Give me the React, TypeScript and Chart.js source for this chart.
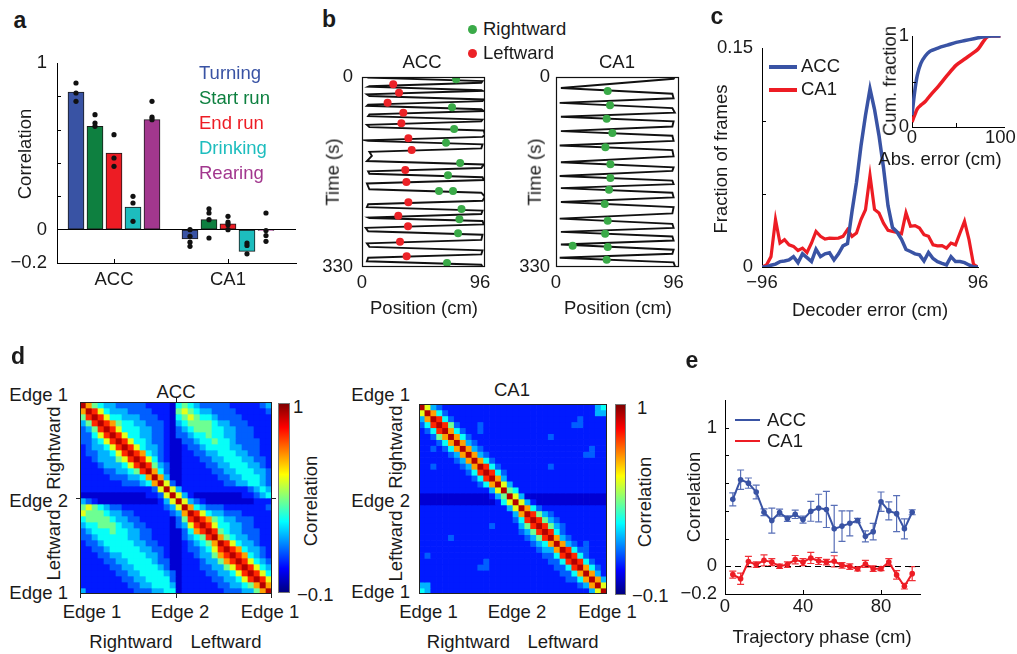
import React, { useEffect, useRef } from 'react';
import { Chart, registerables } from 'chart.js';

Chart.register(...registerables);

const FONT = "'Liberation Sans', Arial, Helvetica, sans-serif";
const INK = '#1a1a1a';
const FS = 18.5;

// ---------------- Panel a ----------------
const BEHAVIOURS = ['Turning', 'Start run', 'End run', 'Drinking', 'Rearing'];
const BEHAVIOUR_COLORS = ['#3953A4', '#0E8040', '#ED1C24', '#1DBDBE', '#A2378E'];
const REGIONS = ['ACC', 'CA1'];
const ACC_BAR = [0.825, 0.62, 0.46, 0.135, 0.66];
const CA1_BAR = [-0.055, 0.06, 0.035, -0.13, -0.005];
const ACC_ANIMALS = [[0.88, 0.82, 0.77], [0.69, 0.64, 0.62], [0.57, 0.43, 0.38], [0.2, 0.16, 0.05], [0.77, 0.675, 0.66]];
const CA1_ANIMALS = [[0, -0.04, -0.075, -0.1], [0.125, 0.1, 0.06, -0.05], [0.08, 0.045, 0.03, 0], [-0.08, -0.095, -0.145], [0.1, -0.005, -0.035, -0.07]];
const CORR_TICKS = [-0.2, 0, 1];

// ---------------- Panel b ----------------
// [time (s), position (cm)]
const ACC_PATH = [
  [0, 4], [1, 5], [7, 98], [10, 97], [16, 6], [17, 5], [23, 97], [24, 98], [30, 4], [33, 6], [39, 99], [42, 98],
  [48, 5], [50, 4], [56, 97], [59, 99], [65, 6], [68, 5], [74, 98], [77, 97], [83, 4], [87, 6], [93, 99], [101, 100],
  [104, 98], [110, 3], [111, 5], [117, 98], [124, 97], [130, 6], [137, 8], [146, 4], [152, 99], [158, 97], [164, 5],
  [168, 6], [174, 98], [179, 99], [185, 4], [195, 6], [201, 97], [208, 100], [215, 98], [221, 5], [226, 4], [232, 98],
  [238, 97], [244, 5], [245, 6], [250, 98], [256, 99], [262, 3], [268, 5], [274, 98], [283, 97], [289, 4], [295, 6],
  [301, 98], [308, 97], [314, 5], [320, 4], [326, 97], [330, 98],
];
const CA1_PATH = [
  [0, 97], [3, 96], [19, 4], [29, 95], [37, 96], [45, 3], [54, 95], [62, 97], [69, 4], [77, 96], [86, 95], [94, 4],
  [102, 95], [111, 96], [119, 3], [127, 95], [138, 96], [148, 4], [157, 96], [163, 95], [172, 3], [180, 95], [186, 96],
  [193, 4], [201, 95], [209, 96], [217, 4], [226, 96], [237, 95], [246, 3], [255, 95], [262, 96], [269, 4], [277, 95],
  [284, 96], [291, 4], [300, 96], [307, 95], [314, 3], [322, 96], [328, 97], [330, 97],
];
const ACC_RIGHTWARD = [[4, 76.5], [52.7, 73.2], [90.3, 74.9], [114, 68.3], [149.4, 79.8], [170.8, 69.9], [198, 62.6], [198, 74.0], [229.3, 80.9], [247.2, 79.2], [271.5, 78.1], [323, 69.1]];
const ACC_LEFTWARD = [[12.7, 25.4], [27.2, 30.1], [44.6, 20.8], [62, 33.6], [80.5, 32.0], [106.5, 37.7], [126.8, 40.4], [161.5, 35.2], [182.4, 36.1], [217.7, 37.7], [240.8, 29.5], [259.4, 37.4], [286, 30.9], [311.5, 36.3]];
const CA1_RIGHTWARD = [[24.3, 42.2], [49.2, 44.1], [72.4, 41.4], [97.3, 46.0], [122.2, 40.3], [151.7, 44.4], [175.4, 44.4], [195.7, 43.3], [220.6, 39.8], [249.5, 42.2], [272.1, 40.1], [293, 13.6], [295.3, 42.2], [317.3, 41.4]];
const CA1_LEFTWARD: number[][] = [];

// ---------------- Panel c ----------------
const ERR_BINS = [-96, -92, -88, -84, -80, -76, -72, -68, -64, -60, -56, -52, -48, -44, -40, -36, -32, -28, -24, -20, -16, -12, -8, -4, 0, 4, 8, 12, 16, 20, 24, 28, 32, 36, 40, 44, 48, 52, 56, 60, 64, 68, 72, 76, 80, 84, 88, 92, 96];
const ACC_ERR_FRAC = [0, 0, 0.0012, 0.002, 0.0037, 0.0041, 0.0048, 0.0071, 0.003, 0.009, 0.0064, 0.0037, 0.0122, 0.0071, 0.009, 0.0097, 0.0048, 0.009, 0.0145, 0.016, 0.038, 0.058, 0.083, 0.104, 0.122, 0.108, 0.09, 0.068, 0.042, 0.027, 0.024, 0.019, 0.012, 0.0106, 0.009, 0.0083, 0.0041, 0.0099, 0.0058, 0.0037, 0.0025, 0.0014, 0.0071, 0.0037, 0.0037, 0.003, 0.0014, 0, 0];
const CA1_ERR_FRAC = [0, 0.0014, 0.0071, 0.0325, 0.0164, 0.0187, 0.0152, 0.0141, 0.0113, 0.0129, 0.0099, 0.0164, 0.0244, 0.021, 0.0191, 0.0198, 0.0196, 0.0198, 0.021, 0.0256, 0.021, 0.0233, 0.0325, 0.0392, 0.0627, 0.0394, 0.0369, 0.03, 0.0251, 0.0244, 0.0237, 0.0228, 0.0371, 0.0279, 0.0283, 0.0267, 0.0221, 0.021, 0.0152, 0.0145, 0.0147, 0.0129, 0.0164, 0.0152, 0.0233, 0.0313, 0.0187, 0.0018, 0];
const ABS_ERR = [0, 3, 6, 10, 15, 20, 30, 40, 50, 60, 70, 75, 80, 85, 90, 100];
const ACC_CUM = [0.13, 0.385, 0.57, 0.7, 0.78, 0.83, 0.87, 0.9, 0.93, 0.95, 0.97, 0.98, 0.99, 0.995, 1, 1];
const CA1_CUM = [0.055, 0.13, 0.2, 0.24, 0.28, 0.34, 0.45, 0.57, 0.68, 0.75, 0.82, 0.86, 0.93, 0.99, 1, 1];

// ---------------- Panel d ----------------
const LEVEL_VALUES = [-0.01, 0.065, 0.14, 0.23, 0.32, 0.43, 0.56, 0.69, 0.82, 0.945];
const ACC_MAP = [
  '97543322222111104543222221111123',
  '79864333222211105654332222111112',
  '58986443332221104565443222211111',
  '35898754433222103455554332221111',
  '23589864443322102345554433222111',
  '22468986443322102234454433222111',
  '22346898644322100223445443222211',
  '12334689864332100122344443322211',
  '12233468987432100112233444332211',
  '11233356898642100111223344433221',
  '11123334689853200111122334443321',
  '11112233458974200111112233444332',
  '11111222334797300111111223344432',
  '11111112223479620111111122334432',
  '11111111111126963111111111112343',
  '00000000000112696310000000011234',
  '32100000000001369632100000000111',
  '56543221111111236974322211111112',
  '65554332211111123798643322211111',
  '45555433221111102589875433222111',
  '34455543322111102368986443322111',
  '23444544332211100247898543322211',
  '22344444332211100234589754332211',
  '12234444433221100123457986433211',
  '11223444443322100122346898743321',
  '11122334444332100112335789874321',
  '11112233444432200111233578986432',
  '11111223344443200111223356898643',
  '11111122334444320111122334689864',
  '11111112233444420111112233468986',
  '11111111223344430111111223345797',
  '31111111122233440111111122233579',
];
const CA1_MAP = [
  '96321111111111111111111111111134',
  '69742111111111111111111111111133',
  '37984211111111111111111111121111',
  '24898521112111111111111111221111',
  '12489742112111111111111111111111',
  '11257974211111111111112111111111',
  '11124797321111111111111111111111',
  '11212479732111111111111111111211',
  '11111237973211111111111111112211',
  '11111123797421111111111111111111',
  '11211112379842111111112111111111',
  '11111111248984211111111111111111',
  '11111111124897311111111111111111',
  '11111111112479631111111111111111',
  '11111111111136954111111111111111',
  '00000000000013596300000000000000',
  '00000000000001469631000000000000',
  '11111111111111136974211111111111',
  '11111111111111113798532111111111',
  '11111111111111112489853211111111',
  '11111111111121111358985321111111',
  '11111111111111111235898421111111',
  '11111211111111111123589732111111',
  '11111111111111111112347973212111',
  '11111111111111111111233798422111',
  '12111111111111111111122489842111',
  '11111111111211111111112248984211',
  '11111111112211111111111224897421',
  '11111111111111111111111122479731',
  '11111111111111111111111112247973',
  '33111111111111111111111111123796',
  '43111111111111111111111111111369',
];

// ---------------- Panel e ----------------
const PHASES = [4, 8, 12, 16, 20, 24, 28, 32, 36, 40, 44, 48, 52, 56, 60, 64, 68, 72, 76, 80, 84, 88, 92, 96];
const ACC_PHASE = [0.483, 0.625, 0.6, 0.536, 0.39, 0.33, 0.387, 0.344, 0.375, 0.337, 0.397, 0.42, 0.41, 0.27, 0.29, 0.31, 0.33, 0.216, 0.25, 0.466, 0.4, 0.38, 0.27, 0.39];
const ACC_PHASE_SEM = [0.047, 0.07, 0.037, 0.05, 0.024, 0.09, 0.025, 0.02, 0.03, 0.025, 0.072, 0.1, 0.13, 0.17, 0.11, 0.09, 0.016, 0.04, 0.06, 0.07, 0.065, 0.13, 0.072, 0.018];
const CA1_PHASE = [-0.06, -0.09, 0.034, 0.012, 0.043, 0.03, 0, 0.012, 0.048, 0.03, 0.06, 0.038, 0.03, 0.036, 0.007, -0.002, -0.019, 0.017, -0.017, -0.017, 0.031, -0.062, -0.144, -0.053];
const CA1_PHASE_SEM = [0.025, 0.04, 0.038, 0.02, 0.04, 0.025, 0.015, 0.02, 0.03, 0.025, 0.04, 0.025, 0.02, 0.04, 0.02, 0.02, 0.015, 0.025, 0.02, 0.015, 0.025, 0.03, 0.02, 0.05];

const BLUE = '#3953A4';
const RED = '#ED1C24';

// ---------------- helpers ----------------
const tickFont = { family: FONT, size: FS };
const fmt = (v: number) => (v < 0 ? '\u2212' + String(Math.abs(v)) : String(v));
const fixedTicks = (values: number[]) => (scale: any) => {
  scale.ticks = values.map((v) => ({ value: v }));
};

function jet(t: number) {
  const c = (x: number) => Math.max(0, Math.min(1, x));
  const r = c(1.5 - Math.abs(4 * t - 3));
  const g = c(1.5 - Math.abs(4 * t - 2));
  const b = c(1.5 - Math.abs(4 * t - 1));
  return `rgb(${Math.round(r * 255)},${Math.round(g * 255)},${Math.round(b * 255)})`;
}
const corrColor = (v: number) => jet((v + 0.1) / 1.1);

const inTicksPlugin = {
  id: 'inTicks',
  afterDatasetsDraw(chart: any, _a: any, opts: any) {
    if (!opts || (!opts.x && !opts.y)) return;
    const { ctx, chartArea: a, scales } = chart;
    const len = opts.len || 4;
    ctx.save();
    ctx.strokeStyle = '#000';
    ctx.lineWidth = 1;
    (opts.y || []).forEach((v: number) => {
      const p = Math.round(scales.y.getPixelForValue(v)) + 0.5;
      ctx.beginPath();
      ctx.moveTo(a.left, p);
      ctx.lineTo(a.left + len, p);
      ctx.stroke();
    });
    (opts.x || []).forEach((v: number) => {
      const p = Math.round(scales.x.getPixelForValue(v)) + 0.5;
      ctx.beginPath();
      ctx.moveTo(p, a.bottom);
      ctx.lineTo(p, a.bottom - len);
      ctx.stroke();
    });
    ctx.restore();
  },
};

const framePlugin = {
  id: 'frame',
  afterDatasetsDraw(chart: any, _a: any, opts: any) {
    if (!opts || !opts.on) return;
    const { ctx, chartArea: a } = chart;
    ctx.save();
    ctx.strokeStyle = opts.color || '#000';
    ctx.lineWidth = opts.width || 1;
    ctx.strokeRect(Math.round(a.left) + 0.5, Math.round(a.top) + 0.5, Math.round(a.width) - 1, Math.round(a.height) - 1);
    ctx.restore();
  },
};

const errBarsPlugin = {
  id: 'errBars',
  beforeDatasetsDraw(chart: any) {
    const { ctx, scales } = chart;
    chart.data.datasets.forEach((ds: any, i: number) => {
      if (!ds.errors) return;
      const meta = chart.getDatasetMeta(i);
      ctx.save();
      ctx.strokeStyle = ds.errorColor || ds.borderColor;
      ctx.lineWidth = 1.2;
      meta.data.forEach((el: any, j: number) => {
        const v = ds.data[j].y;
        const e = ds.errors[j];
        const y1 = scales.y.getPixelForValue(v - e);
        const y2 = scales.y.getPixelForValue(v + e);
        const x = el.x;
        ctx.beginPath();
        ctx.moveTo(x, y1);
        ctx.lineTo(x, y2);
        ctx.moveTo(x - 3.5, y1);
        ctx.lineTo(x + 3.5, y1);
        ctx.moveTo(x - 3.5, y2);
        ctx.lineTo(x + 3.5, y2);
        ctx.stroke();
      });
      ctx.restore();
    });
  },
};

const hLinePlugin = {
  id: 'hLine',
  beforeDatasetsDraw(chart: any, _a: any, opts: any) {
    if (!opts || opts.value === undefined) return;
    const { ctx, chartArea: a, scales } = chart;
    const y = Math.round(scales.y.getPixelForValue(opts.value)) + 0.5;
    ctx.save();
    ctx.strokeStyle = '#000';
    ctx.lineWidth = 1;
    ctx.setLineDash(opts.dash || [5, 4]);
    ctx.beginPath();
    ctx.moveTo(a.left, y);
    ctx.lineTo(a.right, y);
    ctx.stroke();
    ctx.restore();
  },
};

const PLUGINS = [inTicksPlugin, framePlugin, errBarsPlugin, hLinePlugin];

const baseOptions = (padding: any) => ({
  responsive: false,
  animation: false,
  events: [],
  layout: { padding },
});
const noLegend = { legend: { display: false }, tooltip: { enabled: false } };
const plainGrid = { display: true, drawOnChartArea: false, drawTicks: false };
const blackBorder = { display: true, color: '#000', width: 1 };

// ---------------- chart configs ----------------
function makeA() {
  const slot = (g: number, s: number) => g * 6 + s + 1;
  const bars = BEHAVIOURS.map((name, s) => ({
    type: 'bar',
    label: name,
    order: 1,
    data: [
      { x: slot(0, s), y: ACC_BAR[s] },
      { x: slot(1, s), y: CA1_BAR[s] },
    ],
    backgroundColor: BEHAVIOUR_COLORS[s],
    borderColor: '#1a1a1a',
    borderWidth: 1,
    borderSkipped: false,
    barThickness: 16,
    grouped: false,
  }));
  const dots: any[] = [];
  BEHAVIOURS.forEach((_, s) => {
    ACC_ANIMALS[s].forEach((v) => dots.push({ x: slot(0, s), y: v }));
    CA1_ANIMALS[s].forEach((v) => dots.push({ x: slot(1, s), y: v }));
  });
  return {
    type: 'bar',
    data: {
      datasets: [
        { type: 'line', label: 'animals', order: 0, data: dots, showLine: false, pointRadius: 2.6, pointBackgroundColor: '#111', pointBorderWidth: 0 },
        ...bars,
      ],
    },
    options: {
      ...baseOptions({ top: 23, right: 14, left: 0, bottom: 0 }),
      plugins: { ...noLegend, inTicks: { y: [0.2, 0.4, 0.6, 0.8], x: [3, 9], len: 4 } },
      scales: {
        x: {
          type: 'linear', min: 0, max: 12.58, offset: false,
          afterBuildTicks: fixedTicks([3, 9]),
          afterFit: (s: any) => { s.height = 39; },
          ticks: { autoSkip: false, maxRotation: 0, padding: 6, font: tickFont, color: INK, callback: (_v: any, i: number) => REGIONS[i] },
          grid: { ...plainGrid, offset: false },
          border: blackBorder,
        },
        y: {
          type: 'linear', min: -0.2, max: 1,
          afterBuildTicks: fixedTicks(CORR_TICKS),
          afterFit: (s: any) => { s.width = 57; },
          ticks: { padding: 10, font: tickFont, color: INK, callback: (v: number) => fmt(v) },
          grid: { display: true, drawTicks: false, color: (c: any) => (c.tick && c.tick.value === 0 ? '#000' : 'rgba(0,0,0,0)') },
          border: blackBorder,
        },
      },
    },
    plugins: PLUGINS,
  };
}

function makeB(path: number[][], right: number[][], left: number[][], yWidth: number, yPad: number, rightPad: number) {
  return () => ({
    type: 'scatter',
    data: {
      datasets: [
        { label: 'Rightward', order: 0, data: right.map(([t, x]) => ({ x, y: t })), pointRadius: 4, pointBackgroundColor: '#3AAA48', pointBorderWidth: 0 },
        { label: 'Leftward', order: 0, data: left.map(([t, x]) => ({ x, y: t })), pointRadius: 4, pointBackgroundColor: '#EC2227', pointBorderWidth: 0 },
        { label: 'Trajectory', order: 1, data: path.map(([t, x]) => ({ x, y: t })), showLine: true, borderColor: '#111', borderWidth: 1.9, pointRadius: 0, tension: 0 },
      ],
    },
    options: {
      ...baseOptions({ top: 22, right: rightPad, left: 0, bottom: 0 }),
      plugins: { ...noLegend, frame: { on: true, color: '#111', width: 1.2 } },
      scales: {
        x: {
          type: 'linear', min: 0, max: 100,
          afterBuildTicks: fixedTicks([0, 96]),
          afterFit: (s: any) => { s.height = 38; },
          ticks: { padding: 5, font: tickFont, color: INK, maxRotation: 0 },
          grid: { display: false, drawTicks: false },
          border: { display: false },
        },
        y: {
          type: 'linear', min: 0, max: 330, reverse: true,
          afterBuildTicks: fixedTicks([0, 330]),
          afterFit: (s: any) => { s.width = yWidth; },
          ticks: { padding: yPad, font: tickFont, color: INK },
          grid: { display: false, drawTicks: false },
          border: { display: false },
        },
      },
    },
    plugins: PLUGINS,
  });
}
const makeBAcc = makeB(ACC_PATH, ACC_RIGHTWARD, ACC_LEFTWARD, 42, 9, 15);
const makeBCa1 = makeB(CA1_PATH, CA1_RIGHTWARD, CA1_LEFTWARD, 41, 6, 16.5);

function makeC() {
  return {
    type: 'line',
    data: {
      datasets: [
        { label: 'ACC', data: ERR_BINS.map((x, i) => ({ x, y: ACC_ERR_FRAC[i] })), borderColor: BLUE, borderWidth: 3.5, pointRadius: 0, tension: 0 },
        { label: 'CA1', data: ERR_BINS.map((x, i) => ({ x, y: CA1_ERR_FRAC[i] })), borderColor: RED, borderWidth: 3.2, pointRadius: 0, tension: 0 },
      ],
    },
    options: {
      ...baseOptions({ top: 28, right: 22, left: 0, bottom: 0 }),
      plugins: { ...noLegend, inTicks: { y: [0.05, 0.1], len: 4 } },
      scales: {
        x: {
          type: 'linear', min: -96, max: 96,
          afterBuildTicks: fixedTicks([-96, 96]),
          afterFit: (s: any) => { s.height = 38; },
          ticks: { padding: 5, font: tickFont, color: INK, maxRotation: 0, callback: (v: number) => fmt(v) },
          grid: plainGrid,
          border: blackBorder,
        },
        y: {
          type: 'linear', min: 0, max: 0.15,
          afterBuildTicks: fixedTicks([0, 0.15]),
          afterFit: (s: any) => { s.width = 62; },
          ticks: { padding: 9, font: tickFont, color: INK, callback: (v: number) => (v === 0 ? '0' : '0.15') },
          grid: plainGrid,
          border: blackBorder,
        },
      },
    },
    plugins: PLUGINS,
  };
}

function makeInset() {
  return {
    type: 'line',
    data: {
      datasets: [
        { label: 'ACC', data: ABS_ERR.map((x, i) => ({ x, y: ACC_CUM[i] })), borderColor: BLUE, borderWidth: 3.5, pointRadius: 0, tension: 0.3 },
        { label: 'CA1', data: ABS_ERR.map((x, i) => ({ x, y: CA1_CUM[i] })), borderColor: RED, borderWidth: 3.5, pointRadius: 0, tension: 0.3 },
      ],
    },
    options: {
      ...baseOptions({ top: 16, right: 36, left: 0, bottom: 0 }),
      plugins: { ...noLegend, inTicks: { y: [0.5], x: [50], len: 4 } },
      scales: {
        x: {
          type: 'linear', min: 0, max: 104,
          afterBuildTicks: fixedTicks([0, 100]),
          afterFit: (s: any) => { s.height = 33; },
          ticks: { padding: 0, font: tickFont, color: INK, maxRotation: 0 },
          grid: plainGrid,
          border: blackBorder,
        },
        y: {
          type: 'linear', min: 0, max: 1,
          afterBuildTicks: fixedTicks([0, 1]),
          afterFit: (s: any) => { s.width = 32; },
          ticks: { padding: 3, font: tickFont, color: INK },
          grid: plainGrid,
          border: blackBorder,
        },
      },
    },
    plugins: PLUGINS,
  };
}

function makeHeat(rows: string[]) {
  return () => {
    const n = rows.length;
    return {
      type: 'bar',
      data: {
        labels: rows[0].split('').map((_, j) => String(j)),
        datasets: rows.map((row, r) => ({
          label: 'row ' + r,
          data: row.split('').map(() => [r, r + 1]),
          backgroundColor: row.split('').map((ch) => corrColor(LEVEL_VALUES[Number(ch)])),
          borderWidth: 0,
          barPercentage: 1,
          categoryPercentage: 1,
        })),
      },
      options: {
        ...baseOptions(0),
        plugins: { ...noLegend, frame: { on: true, color: '#222', width: 1 } },
        scales: {
          x: { type: 'category', stacked: true, display: false, offset: true, grid: { offset: true } },
          y: { type: 'linear', min: 0, max: n, reverse: true, display: false },
        },
      },
      plugins: PLUGINS,
    };
  };
}
const makeHeatAcc = makeHeat(ACC_MAP);
const makeHeatCa1 = makeHeat(CA1_MAP);

function makeE() {
  return {
    type: 'line',
    data: {
      datasets: [
        {
          label: 'ACC', data: PHASES.map((x, i) => ({ x, y: ACC_PHASE[i] })), errors: ACC_PHASE_SEM, errorColor: 'rgba(70,95,175,0.9)',
          borderColor: BLUE, borderWidth: 2, pointRadius: 2.8, pointBackgroundColor: BLUE, pointBorderWidth: 0, tension: 0,
        },
        {
          label: 'CA1', data: PHASES.map((x, i) => ({ x, y: CA1_PHASE[i] })), errors: CA1_PHASE_SEM, errorColor: 'rgba(237,28,36,0.9)',
          borderColor: RED, borderWidth: 2, pointRadius: 2.8, pointBackgroundColor: RED, pointBorderWidth: 0, tension: 0,
        },
      ],
    },
    options: {
      ...baseOptions({ top: 20, right: 20, left: 0, bottom: 0 }),
      plugins: { ...noLegend, inTicks: { y: [0.2, 0.4, 0.6, 0.8, 1], x: [40, 80], len: 4 }, hLine: { value: 0, dash: [6, 4] } },
      scales: {
        x: {
          type: 'linear', min: 0, max: 100,
          afterBuildTicks: fixedTicks([0, 40, 80]),
          afterFit: (s: any) => { s.height = 41; },
          ticks: { padding: 2, font: tickFont, color: INK, maxRotation: 0 },
          grid: plainGrid,
          border: blackBorder,
        },
        y: {
          type: 'linear', min: -0.2, max: 1.2,
          afterBuildTicks: fixedTicks(CORR_TICKS),
          afterFit: (s: any) => { s.width = 55; },
          ticks: { padding: 8, font: tickFont, color: INK, callback: (v: number) => fmt(v) },
          grid: plainGrid,
          border: blackBorder,
        },
      },
    },
    plugins: PLUGINS,
  };
}

// ---------------- components ----------------
function ChartBox({ x, y, w, h, make }: { x: number; y: number; w: number; h: number; make: () => any }) {
  const ref = useRef<HTMLCanvasElement | null>(null);
  useEffect(() => {
    if (!ref.current) return;
    const chart = new Chart(ref.current, make());
    return () => chart.destroy();
  }, [make]);
  return <canvas ref={ref} width={w} height={h} style={{ position: 'absolute', left: x, top: y, width: w, height: h }} />;
}

function Txt({ x, y, children, size = FS, color = INK, bold = false, rot = false, align = 'c' }: any) {
  const tx = align === 'c' ? '-50%' : align === 'r' ? '-100%' : '0%';
  return (
    <div
      style={{
        position: 'absolute', left: x, top: y,
        transform: `translate(${tx}, -50%)` + (rot ? ' rotate(-90deg)' : ''),
        fontSize: size, lineHeight: 1, whiteSpace: 'nowrap', color,
        fontWeight: bold ? 700 : 400, fontFamily: FONT,
      }}
    >
      {children}
    </div>
  );
}

const Box = ({ x, y, w, h, bg, extra }: any) => <div style={{ position: 'absolute', left: x, top: y, width: w, height: h, background: bg, ...(extra || {}) }} />;

const JET_GRADIENT = 'linear-gradient(to top, rgb(0,0,128) 0%, rgb(0,0,255) 12.5%, rgb(0,255,255) 37.5%, rgb(255,255,0) 62.5%, rgb(255,0,0) 87.5%, rgb(128,0,0) 100%)';

export default function App() {
  return (
    <div style={{ position: 'absolute', left: 0, top: 0, width: 1017, height: 654, overflow: 'hidden', background: '#fff', fontFamily: FONT, color: INK }}>
      {/* Panel a */}
      <ChartBox x={0} y={40} w={310} h={262} make={makeA} />
      <Txt x={20} y={20} size={23} bold>a</Txt>
      <Txt x={25} y={154} rot>Correlation</Txt>
      {BEHAVIOURS.map((b, i) => (
        <Txt key={b} x={199} y={73 + i * 25} align="l" color={BEHAVIOUR_COLORS[i]}>{b}</Txt>
      ))}

      {/* Panel b */}
      <ChartBox x={320} y={55} w={180} h={250} make={makeBAcc} />
      <ChartBox x={515} y={55} w={180} h={250} make={makeBCa1} />
      <Txt x={329} y={19} size={23} bold>b</Txt>
      <Box x={467.5} y={24.5} w={9} h={9} bg="#3AAA48" extra={{ borderRadius: '50%' }} />
      <Txt x={483} y={29} align="l">Rightward</Txt>
      <Box x={467.5} y={48.5} w={9} h={9} bg="#EC2227" extra={{ borderRadius: '50%' }} />
      <Txt x={483} y={53} align="l">Leftward</Txt>
      <Txt x={422} y={62}>ACC</Txt>
      <Txt x={617} y={62}>CA1</Txt>
      <Txt x={333} y={172} rot>Time (s)</Txt>
      <Txt x={535} y={172} rot>Time (s)</Txt>
      <Txt x={424} y={308}>Position (cm)</Txt>
      <Txt x={618} y={308}>Position (cm)</Txt>

      {/* Panel c */}
      <ChartBox x={700} y={20} w={300} h={285} make={makeC} />
      <ChartBox x={880} y={20} w={160} h={140} make={makeInset} />
      <Txt x={717} y={16} size={23} bold>c</Txt>
      <Box x={769} y={64.5} w={28} h={4} bg={BLUE} />
      <Txt x={801} y={66} align="l">ACC</Txt>
      <Box x={769} y={87.5} w={28} h={4} bg={RED} />
      <Txt x={801} y={89} align="l">CA1</Txt>
      <Txt x={721} y={159} rot>Fraction of frames</Txt>
      <Txt x={870} y={310}>Decoder error (cm)</Txt>
      <Txt x={890} y={81} rot>Cum. fraction</Txt>
      <Txt x={940} y={159}>Abs. error (cm)</Txt>

      {/* Panel d */}
      <Txt x={18} y={356} size={23} bold>d</Txt>
      <ChartBox x={80} y={402} w={192} h={192} make={makeHeatAcc} />
      <ChartBox x={419} y={404} w={188} h={190} make={makeHeatCa1} />
      {/* heatmap ticks (ACC) */}
      <Box x={176} y={398} w={1} h={4} bg="#222" />
      <Box x={76} y={498} w={4} h={1} bg="#222" />
      <Box x={272} y={498} w={4} h={1} bg="#222" />
      <Box x={80} y={594} w={1} h={4} bg="#222" />
      <Box x={176} y={594} w={1} h={4} bg="#222" />
      <Box x={271} y={594} w={1} h={4} bg="#222" />
      <Box x={278} y={403} w={12} h={190} bg={JET_GRADIENT} extra={{ boxSizing: 'border-box', border: '1px solid #777' }} />
      <Box x={615} y={404} w={11} h={191} bg={JET_GRADIENT} extra={{ boxSizing: 'border-box', border: '1px solid #777' }} />

      <Txt x={176} y={392}>ACC</Txt>
      <Txt x={68} y={395} align="r">Edge 1</Txt>
      <Txt x={68} y={501} align="r">Edge 2</Txt>
      <Txt x={68} y={593} align="r">Edge 1</Txt>
      <Txt x={54} y={448} rot>Rightward</Txt>
      <Txt x={54} y={545} rot>Leftward</Txt>
      <Txt x={92} y={612}>Edge 1</Txt>
      <Txt x={180} y={612}>Edge 2</Txt>
      <Txt x={270} y={612}>Edge 1</Txt>
      <Txt x={131} y={642}>Rightward</Txt>
      <Txt x={226} y={642}>Leftward</Txt>
      <Txt x={293} y={407} align="l">1</Txt>
      <Txt x={297} y={595} align="l">{'\u22120.1'}</Txt>
      <Txt x={311} y={501} rot>Correlation</Txt>

      <Txt x={512} y={390}>CA1</Txt>
      <Txt x={410} y={395} align="r">Edge 1</Txt>
      <Txt x={410} y={501} align="r">Edge 2</Txt>
      <Txt x={410} y={592} align="r">Edge 1</Txt>
      <Txt x={396} y={447} rot>Rightward</Txt>
      <Txt x={396} y={546} rot>Leftward</Txt>
      <Txt x={428.5} y={612}>Edge 1</Txt>
      <Txt x={517} y={612}>Edge 2</Txt>
      <Txt x={607.5} y={612}>Edge 1</Txt>
      <Txt x={468.5} y={642}>Rightward</Txt>
      <Txt x={563} y={642}>Leftward</Txt>
      <Txt x={637} y={408} align="l">1</Txt>
      <Txt x={632} y={596} align="l">{'\u22120.1'}</Txt>
      <Txt x={645} y={502} rot>Correlation</Txt>

      {/* Panel e */}
      <ChartBox x={670} y={380} w={270} h={255} make={makeE} />
      <Txt x={692} y={360} size={23} bold>e</Txt>
      <Txt x={694} y={497} rot>Correlation</Txt>
      <Txt x={822} y={637}>Trajectory phase (cm)</Txt>
      <Box x={735} y={419} w={25} h={2} bg={BLUE} />
      <Txt x={767} y={420} align="l">ACC</Txt>
      <Box x={735} y={440} w={25} h={2} bg={RED} />
      <Txt x={767} y={441} align="l">CA1</Txt>
    </div>
  );
}
